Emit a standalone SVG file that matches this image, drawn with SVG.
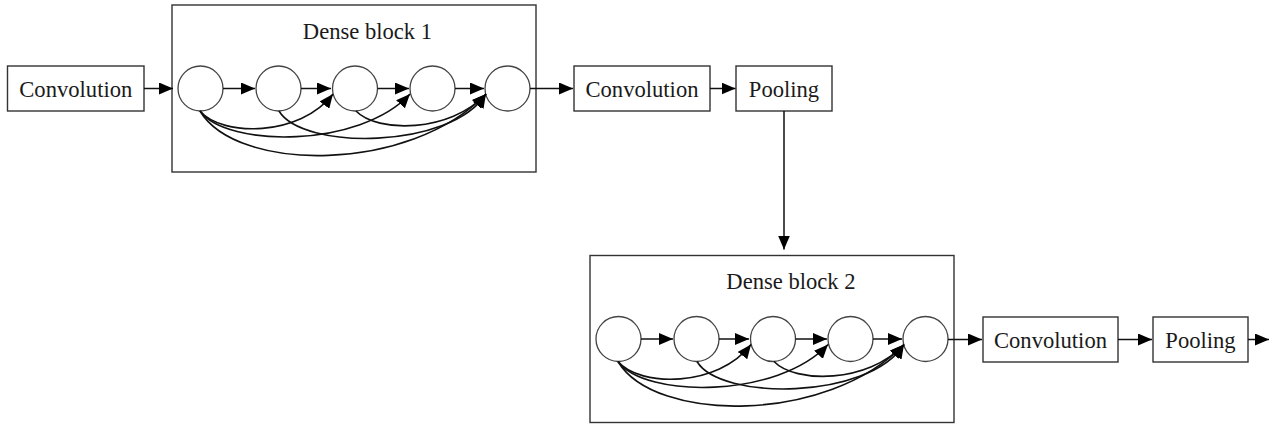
<svg xmlns="http://www.w3.org/2000/svg" width="1277" height="429" viewBox="0 0 1277 429">
  <style>
    .box { fill: #ffffff; stroke: #333333; stroke-width: 1.4; }
    .unit { fill: #ffffff; stroke: #444444; stroke-width: 1.3; }
    .label { font-size: 22.6px; fill: #1a1a1a; text-anchor: middle; }
    .edge { fill: none; stroke: #111111; stroke-width: 1.5; marker-end: url(#arrow); }
    .skip { fill: none; stroke: #111111; stroke-width: 1.6; marker-end: url(#arrow); }
  </style>
  <defs>
    <marker id="arrow" markerUnits="userSpaceOnUse" markerWidth="14" markerHeight="12" refX="14" refY="6" orient="auto">
      <path d="M0,0 L14,6 L0,12 Z" fill="#000000"/>
    </marker>
    <!-- one dense block: five units, chain and skip links -->
    <g id="dense-units">
      <circle class="unit" cx="28.5" cy="83.5" r="22.5"/>
      <circle class="unit" cx="106.5" cy="83.5" r="22.5"/>
      <circle class="unit" cx="183" cy="83.5" r="22.5"/>
      <circle class="unit" cx="260.5" cy="83.5" r="22.5"/>
      <circle class="unit" cx="335.5" cy="83.5" r="22.5"/>
    </g>
    <g id="dense-links">
      <line class="edge" x1="51" y1="83.5" x2="83" y2="83.5"/>
      <line class="edge" x1="129" y1="83.5" x2="159" y2="83.5"/>
      <line class="edge" x1="205.5" y1="83.5" x2="237" y2="83.5"/>
      <line class="edge" x1="283" y1="83.5" x2="312" y2="83.5"/>
      <path class="skip" d="M28,106 C50,132 128,132 161,89"/>
      <path class="skip" d="M28,106 C55,143 188,143 238,89"/>
      <path class="skip" d="M28,106 C65,168 238,168 314,89"/>
      <path class="skip" d="M107,106 C130,145 278,145 314,89"/>
      <path class="skip" d="M184,106 C205,128 278,128 314,89"/>
    </g>
  </defs>

  <g font-family="'Liberation Serif', 'DejaVu Serif', serif">
  <g id="conv-1">
    <rect class="box" x="7.5" y="66" width="136.5" height="45"/>
    <text class="label" x="75.8" y="96.5">Convolution</text>
  </g>

  <g id="dense-block-1">
    <rect class="box" x="172" y="5" width="364" height="167"/>
    <text class="label" x="367.5" y="39">Dense block 1</text>
    <g transform="translate(172,5)">
      <use href="#dense-units"/>
    </g>
  </g>

  <g id="conv-2">
    <rect class="box" x="574" y="66" width="136" height="45"/>
    <text class="label" x="642" y="96.5">Convolution</text>
  </g>

  <g id="pool-1">
    <rect class="box" x="736" y="66" width="96" height="45"/>
    <text class="label" x="784" y="96.5">Pooling</text>
  </g>

  <g id="dense-block-2">
    <rect class="box" x="590" y="255.5" width="364" height="167"/>
    <text class="label" x="791" y="289">Dense block 2</text>
    <g transform="translate(590,255.5)">
      <use href="#dense-units"/>
    </g>
  </g>

  <g id="conv-3">
    <rect class="box" x="983" y="317" width="135" height="45"/>
    <text class="label" x="1050.5" y="347.5">Convolution</text>
  </g>

  <g id="pool-2">
    <rect class="box" x="1153" y="317" width="95" height="45"/>
    <text class="label" x="1200.5" y="347.5">Pooling</text>
  </g>
  </g>

  <g id="connectors">
    <line class="edge" x1="144" y1="88.5" x2="173" y2="88.5"/>
    <g transform="translate(172,5)">
      <use href="#dense-links"/>
    </g>
    <line class="edge" x1="530" y1="88.5" x2="573" y2="88.5"/>
    <line class="edge" x1="710" y1="88.5" x2="735.5" y2="88.5"/>
    <line class="edge" x1="784" y1="111" x2="784" y2="249.5"/>
    <g transform="translate(590,255.5)">
      <use href="#dense-links"/>
    </g>
    <line class="edge" x1="948" y1="339.5" x2="982" y2="339.5"/>
    <line class="edge" x1="1118" y1="339.5" x2="1152" y2="339.5"/>
    <line class="edge" x1="1248" y1="339.5" x2="1269" y2="339.5"/>
  </g>
</svg>
